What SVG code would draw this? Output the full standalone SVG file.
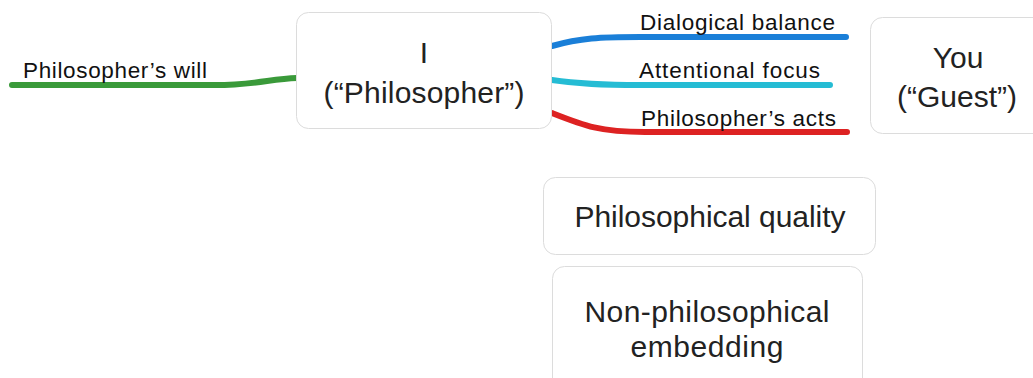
<svg xmlns="http://www.w3.org/2000/svg" width="1033" height="378" viewBox="0 0 1033 378">
<style>
.box{fill:#fff;stroke:#dcdcdc;stroke-width:1}
.bt{font-family:"Liberation Sans",Arial,sans-serif;font-size:30px;fill:#222;text-anchor:middle}
.lt{font-family:"Liberation Sans",Arial,sans-serif;font-size:22.5px;fill:#111}
.ln{fill:none;stroke-width:6;stroke-linecap:round}
</style>
<rect width="1033" height="378" fill="#fff"/>
<g id="connectors">
<path class="ln" stroke="#3a9a3a" d="M12,85 L215,85 C255,85 270,79 297,78"/>
<path class="ln" stroke="#1a7fd8" d="M552,46 C580,38 600,37 640,37 L846,37"/>
<path class="ln" stroke="#25bcd4" d="M552,80 C580,84 600,85 640,85 L830,85"/>
<path class="ln" stroke="#dd2222" d="M552,113 C585,126 600,132 645,132 L847,132"/>
</g>
<g id="label-will"><text class="lt" x="23" y="78" textLength="184">Philosopher’s will</text></g>
<g id="label-balance"><text class="lt" x="640" y="30" textLength="195">Dialogical balance</text></g>
<g id="label-focus"><text class="lt" x="639" y="78" textLength="181">Attentional focus</text></g>
<g id="label-acts"><text class="lt" x="641" y="126" textLength="195">Philosopher’s acts</text></g>
<g id="node-philosopher">
<rect class="box" x="296.5" y="12.5" width="255" height="116" rx="12"/>
<text class="bt" x="424" y="63">I</text>
<text class="bt" x="424" y="103" textLength="201">(“Philosopher”)</text>
</g>
<g id="node-guest">
<rect class="box" x="870.5" y="17.5" width="190" height="116" rx="12"/>
<text class="bt" x="958" y="68">You</text>
<text class="bt" x="957" y="107" textLength="120">(“Guest”)</text>
</g>
<g id="node-quality">
<rect class="box" x="543.5" y="177.5" width="332" height="77" rx="12"/>
<text class="bt" x="710" y="227" textLength="271">Philosophical quality</text>
</g>
<g id="node-embedding">
<rect class="box" x="552.5" y="266.5" width="310" height="130" rx="12"/>
<text class="bt" x="707" y="322" textLength="245">Non-philosophical</text>
<text class="bt" x="707" y="357" textLength="153">embedding</text>
</g>
</svg>
